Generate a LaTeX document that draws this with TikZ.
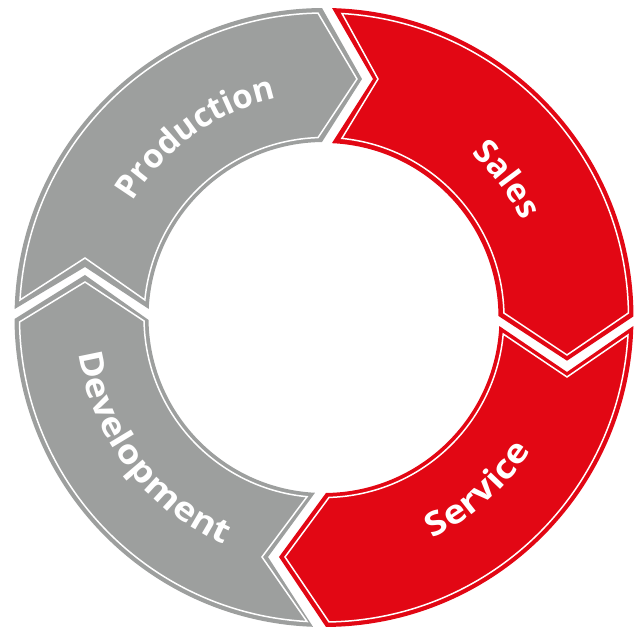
\documentclass[tikz,border=0pt]{standalone}
\usepackage{fontspec}
\usetikzlibrary{decorations.text}
\newfontfamily\lab{Open Sans}
\newfontfamily\labwide{Open Sans}[FakeStretch=1.13]
\definecolor{ringgrey}{HTML}{9D9F9E}
\definecolor{ringred}{HTML}{E20714}
\newcommand\lbl{\lab\bfseries\fontsize{33}{34}\selectfont\color{white}}
\newcommand\lblwide{\labwide\bfseries\fontsize{33}{34}\selectfont\color{white}}
\tikzset{
  inset/.style={draw=white,line width=1.5pt,line join=miter},
  curved/.style={decorate,decoration={text along path,text align=center,text={|\lbl|#1}}},
  curvedwide/.style={decorate,decoration={text along path,text align=center,text={|\lblwide|#1}}}
}
\begin{document}
\begin{tikzpicture}[x=1pt,y=1pt]
\useasboundingbox (-324pt,-310.5pt) rectangle (314pt,317.5pt);
% Production
\fill[ringgrey] (178.43:309.5pt) arc[start angle=178.43,end angle=90.37,radius=309.5pt] -- (38pt,238.5pt) -- (90.66:175.5pt) arc[start angle=90.66,end angle=177.2,radius=175.5pt] -- (-239pt,50.5pt) -- cycle;
\draw[inset] (176.7:304.5pt) arc[start angle=176.7,end angle=91.13,radius=304.5pt] -- (33pt,238.5pt) -- (91.9:180pt) arc[start angle=91.9,end angle=174.4,radius=180pt] -- (-239pt,59.5pt) -- cycle;
% Sales
\fill[ringred] (88.5:309.5pt) arc[start angle=88.5,end angle=0.2,radius=309.5pt] -- (243pt,-43.2pt) -- (0.5:174.5pt) arc[start angle=0.5,end angle=87.4,radius=174.5pt] -- (49pt,238.5pt) -- cycle;
\draw[inset] (86.6:304.5pt) arc[start angle=86.6,end angle=0.85,radius=304.5pt] -- (243pt,-37.5pt) -- (1.44:180pt) arc[start angle=1.44,end angle=84.3,radius=180pt] -- (54pt,238.5pt) -- cycle;
% Service
\fill[ringred] (-1.58:309.5pt) arc[start angle=-1.58,end angle=-89.63,radius=309.5pt] -- (-45pt,-239.5pt) -- (-89.35:175.5pt) arc[start angle=-89.35,end angle=-2.8,radius=175.5pt] -- (243pt,-54.5pt) -- cycle;
\draw[inset] (-3.3:304.5pt) arc[start angle=-3.3,end angle=-89.06,radius=304.5pt] -- (-39pt,-239.5pt) -- (-88.4:180pt) arc[start angle=-88.4,end angle=-5.27,radius=180pt] -- (243pt,-59.5pt) -- cycle;
% Development
\fill[ringgrey] (180.28:309.5pt) arc[start angle=180.28,end angle=267.96,radius=309.5pt] -- (-56pt,-239.5pt) -- (267.06:175.5pt) arc[start angle=267.06,end angle=180.8,radius=175.5pt] -- (-239pt,42.5pt) -- cycle;
\draw[inset] (180.84:304.5pt) arc[start angle=180.84,end angle=266.8,radius=304.5pt] -- (-62pt,-239.5pt) -- (264.6:180pt) arc[start angle=264.6,end angle=181.1,radius=180pt] -- (-239pt,35.5pt) -- cycle;
% Labels
\path[curved=Production] (175.5:224pt) arc[start angle=175.5,end angle=75.5,radius=224pt];
\path[curved=Sales] (87:220.5pt) arc[start angle=87,end angle=-13,radius=220.5pt];
\path[curvedwide=Service] (-98.2:246pt) arc[start angle=-98.2,end angle=1.8,radius=246pt];
\path[curvedwide=Development] (157.3:248pt) arc[start angle=157.3,end angle=277.3,radius=248pt];
\end{tikzpicture}
\end{document}
